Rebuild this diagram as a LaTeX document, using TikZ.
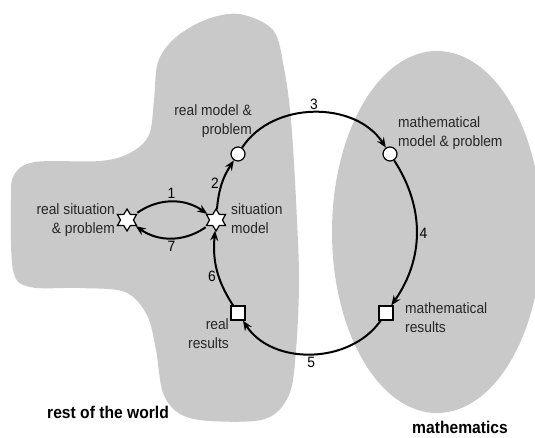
\documentclass[tikz,border=0pt]{standalone}
\usepackage{fontspec}
\setmainfont{Liberation Sans}[FakeStretch=0.92]
\usetikzlibrary{shapes.geometric, arrows.meta, positioning}

\tikzset{
  region/.style={fill=black!21, draw=none},
  starnode/.style={star, star points=6, star point ratio=1.7, minimum size=22pt, draw, fill=white, line width=1.2pt, inner sep=0pt},
  circnode/.style={circle, draw, fill=white, minimum size=14pt, line width=1.2pt, inner sep=0pt},
  sqnode/.style={rectangle, draw, fill=white, minimum size=14pt, line width=1.2pt, inner sep=0pt},
  txt/.style={font=\fontsize{15}{19}\selectfont, text=black!85, inner sep=1pt},
  cyc/.style={->, line width=2pt, >={Stealth[length=10pt, width=8pt]}},
  num/.style={font=\fontsize{15}{18}\selectfont, inner sep=2pt},
  title/.style={font=\bfseries\fontsize{17}{20}\selectfont, inner sep=0pt}
}

\begin{document}
\begin{tikzpicture}[x=1pt, y=1pt]
  \useasboundingbox (0,0) rectangle (535,-438);

  % rest of the world
  \fill[region] plot[smooth cycle, tension=0.55] coordinates {
    (239,-14) (273,-30) (284,-68) (291,-120) (296,-200) (299,-280)
    (296,-350) (289,-395) (265,-419) (210,-421) (180,-414) (163,-393)
    (156,-350) (147,-315) (125,-292) (80,-288) (30,-287) (13,-270)
    (11,-200) (14,-175) (35,-162) (100,-161) (130,-153) (149,-135)
    (154,-100) (158,-62) (175,-38) (205,-20)};

  % mathematics
  \begin{scope}
    \clip (0,0) rectangle (535,-438);
    \fill[region] (437,-232) ellipse [x radius=105, y radius=181];
  \end{scope}

  % stations of the cycle
  \node[starnode] (rs) at (127,-220) {};
  \node[starnode] (sm) at (216,-220) {};
  \node[circnode] (rm) at (238,-154) {};
  \node[circnode] (mm) at (390,-154) {};
  \node[sqnode] (mr) at (386,-313) {};
  \node[sqnode] (rr) at (238,-313) {};

  % texts
  \node[txt, align=right, anchor=east] (rstxt) at (116,-220) {real situation\\\& problem};
  \node[txt, align=left, anchor=west] (smtxt) at (230,-219) {situation\\model};
  \node[txt, align=right, anchor=east] (rmtxt) at (253,-121) {real model \&\\problem};
  \node[txt, align=left, anchor=west] (mmtxt) at (397,-133) {mathematical\\model \& problem};
  \node[txt, align=left, anchor=west] (mrtxt) at (404,-318) {mathematical\\results};
  \node[txt, align=right, anchor=east] (rrtxt) at (230,-334) {real\\results};
  \node[title, anchor=west] (world) at (47,-412) {rest of the world};
  \node[title, anchor=west] (maths) at (412,-427) {mathematics};

  % cycle
  \draw[cyc, shorten <=2pt] (rs) to[out=35, in=145] node[num, above] {1} (sm);
  \draw[cyc, shorten <=2pt] (sm) to[out=-145, in=-35] node[num, below] {7} (rs);
  \draw[cyc] (sm) to[out=85, in=237] node[num, left] {2} (rm);
  \draw[cyc] (rm) to[out=57, in=123] node[num, above] {3} (mm);
  \draw[cyc] (mm) to[out=-57, in=55] node[num, right] {4} (mr);
  \draw[cyc] (mr) to[out=235, in=-57] node[num, below] {5} (rr);
  \draw[cyc] (rr) to[out=123, in=265] node[num, left, pos=0.4] {6} (sm);
\end{tikzpicture}
\end{document}
